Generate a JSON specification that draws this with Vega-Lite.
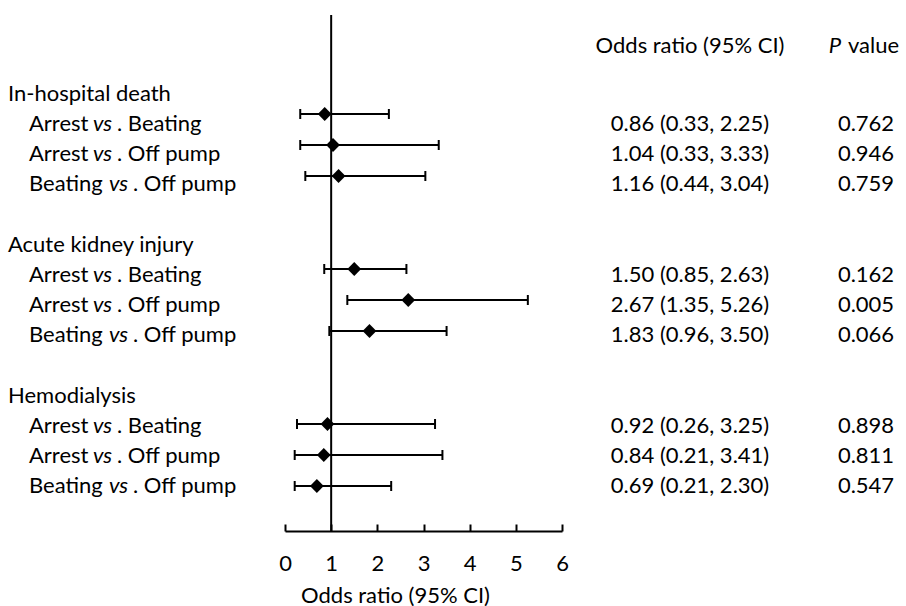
{
  "$schema": "https://vega.github.io/schema/vega-lite/v6.json",
  "padding": {"left": 0, "top": 14, "right": 0, "bottom": 0},
  "spacing": 0,
  "bounds": "flush",
  "background": "white",
  "datasets": {
    "rows": [
      {"order": 1, "level": 0, "label": "In-hospital death"},
      {"order": 2, "level": 1, "first": "Arrest", "rest": ". Beating", "or": 0.86, "lo": 0.33, "hi": 2.25, "ci": "0.86 (0.33, 2.25)", "p": "0.762"},
      {"order": 3, "level": 1, "first": "Arrest", "rest": ". Off pump", "or": 1.04, "lo": 0.33, "hi": 3.33, "ci": "1.04 (0.33, 3.33)", "p": "0.946"},
      {"order": 4, "level": 1, "first": "Beating", "rest": ". Off pump", "or": 1.16, "lo": 0.44, "hi": 3.04, "ci": "1.16 (0.44, 3.04)", "p": "0.759"},
      {"order": 6, "level": 0, "label": "Acute kidney injury"},
      {"order": 7, "level": 1, "first": "Arrest", "rest": ". Beating", "or": 1.50, "lo": 0.85, "hi": 2.63, "ci": "1.50 (0.85, 2.63)", "p": "0.162"},
      {"order": 8, "level": 1, "first": "Arrest", "rest": ". Off pump", "or": 2.67, "lo": 1.35, "hi": 5.26, "ci": "2.67 (1.35, 5.26)", "p": "0.005"},
      {"order": 9, "level": 1, "first": "Beating", "rest": ". Off pump", "or": 1.83, "lo": 0.96, "hi": 3.50, "ci": "1.83 (0.96, 3.50)", "p": "0.066"},
      {"order": 11, "level": 0, "label": "Hemodialysis"},
      {"order": 12, "level": 1, "first": "Arrest", "rest": ". Beating", "or": 0.92, "lo": 0.26, "hi": 3.25, "ci": "0.92 (0.26, 3.25)", "p": "0.898"},
      {"order": 13, "level": 1, "first": "Arrest", "rest": ". Off pump", "or": 0.84, "lo": 0.21, "hi": 3.41, "ci": "0.84 (0.21, 3.41)", "p": "0.811"},
      {"order": 14, "level": 1, "first": "Beating", "rest": ". Off pump", "or": 0.69, "lo": 0.21, "hi": 2.30, "ci": "0.69 (0.21, 2.30)", "p": "0.547"}
    ],
    "heads": [
      {"order": 0, "orhead": "Odds ratio (95% CI)", "p1": "P", "p2": "value"}
    ],
    "ref": [
      {"ref": 1}
    ]
  },
  "resolve": {"scale": {"x": "independent", "y": "independent"}},
  "hconcat": [
    {
      "width": 285,
      "height": 516,
      "data": {"name": "rows"},
      "encoding": {
        "y": {"field": "order", "type": "quantitative", "scale": {"domain": [-1.841, 15.245], "reverse": true, "nice": false, "zero": false}, "axis": null},
        "x": {"field": "level", "type": "quantitative", "scale": {"domain": [0, 1], "range": [8, 29]}, "axis": null}
      },
      "layer": [
        {
          "transform": [{"filter": "datum.level == 0"}],
          "mark": {"type": "text", "align": "left", "baseline": "alphabetic"},
          "encoding": {"text": {"field": "label"}}
        },
        {
          "transform": [{"filter": "datum.level == 1"}],
          "mark": {"type": "text", "align": "left", "baseline": "alphabetic"},
          "encoding": {"text": {"field": "first"}}
        },
        {
          "transform": [{"filter": "datum.first == 'Arrest'"}],
          "mark": {"type": "text", "align": "left", "baseline": "alphabetic", "fontStyle": "italic", "text": "vs", "dx": 64}
        },
        {
          "transform": [{"filter": "datum.first == 'Beating'"}],
          "mark": {"type": "text", "align": "left", "baseline": "alphabetic", "fontStyle": "italic", "text": "vs", "dx": 80}
        },
        {
          "transform": [{"filter": "datum.first == 'Arrest'"}],
          "mark": {"type": "text", "align": "left", "baseline": "alphabetic", "dx": 88},
          "encoding": {"text": {"field": "rest"}}
        },
        {
          "transform": [{"filter": "datum.first == 'Beating'"}],
          "mark": {"type": "text", "align": "left", "baseline": "alphabetic", "dx": 104},
          "encoding": {"text": {"field": "rest"}}
        }
      ]
    },
    {
      "width": 277,
      "height": 516,
      "layer": [
        {
          "data": {"name": "ref"},
          "mark": {"type": "rule", "color": "black", "strokeWidth": 2, "opacity": 1},
          "encoding": {
            "x": {
              "field": "ref",
              "type": "quantitative",
              "scale": {"domain": [0, 6], "nice": false, "zero": false},
              "axis": {
                "values": [0, 1, 2, 3, 4, 5, 6],
                "format": "d",
                "grid": false,
                "domainColor": "black",
                "domainWidth": 2,
                "tickColor": "black",
                "tickWidth": 2,
                "tickSize": -7,
                "labelPadding": 29,
                "labelFontSize": 22,
                "labelFont": "Lato",
                "labelColor": "black",
                "labelFlush": false,
                "title": "Odds ratio (95% CI)",
                "titleFont": "Lato",
                "titleFontSize": 22,
                "titleFontWeight": "normal",
                "titleColor": "black",
                "titleX": 110,
                "titleY": 71,
                "titleBaseline": "alphabetic",
                "titleAlign": "center"
              }
            }
          }
        },
        {
          "data": {"name": "rows"},
          "transform": [{"filter": "datum.level == 1"}],
          "mark": {"type": "rule", "color": "black", "strokeWidth": 2, "opacity": 1},
          "encoding": {
            "x": {"field": "lo", "type": "quantitative"},
            "x2": {"field": "hi"},
            "y": {"field": "order", "type": "quantitative", "scale": {"domain": [-1.1935, 15.4516], "reverse": true, "nice": false, "zero": false}, "axis": null}
          }
        },
        {
          "data": {"name": "rows"},
          "transform": [{"filter": "datum.level == 1"}],
          "mark": {"type": "tick", "orient": "vertical", "size": 10, "thickness": 2, "color": "black", "opacity": 1},
          "encoding": {
            "x": {"field": "lo", "type": "quantitative"},
            "y": {"field": "order", "type": "quantitative", "axis": null}
          }
        },
        {
          "data": {"name": "rows"},
          "transform": [{"filter": "datum.level == 1"}],
          "mark": {"type": "tick", "orient": "vertical", "size": 10, "thickness": 2, "color": "black", "opacity": 1},
          "encoding": {
            "x": {"field": "hi", "type": "quantitative"},
            "y": {"field": "order", "type": "quantitative", "axis": null}
          }
        },
        {
          "data": {"name": "rows"},
          "transform": [{"filter": "datum.level == 1"}],
          "mark": {"type": "point", "shape": "diamond", "filled": true, "color": "black", "size": 190, "opacity": 1},
          "encoding": {
            "x": {"field": "or", "type": "quantitative"},
            "y": {"field": "order", "type": "quantitative", "axis": null}
          }
        }
      ]
    },
    {
      "width": 256,
      "height": 516,
      "encoding": {
        "y": {"field": "order", "type": "quantitative", "scale": {"domain": [-1.841, 15.245], "reverse": true, "nice": false, "zero": false}, "axis": null}
      },
      "layer": [
        {
          "data": {"name": "rows"},
          "transform": [{"filter": "datum.level == 1"}],
          "mark": {"type": "text", "align": "center", "baseline": "alphabetic"},
          "encoding": {"text": {"field": "ci"}}
        },
        {
          "data": {"name": "heads"},
          "mark": {"type": "text", "align": "center", "baseline": "alphabetic", "dy": -18},
          "encoding": {"text": {"field": "orhead"}}
        }
      ]
    },
    {
      "width": 88,
      "height": 516,
      "encoding": {
        "y": {"field": "order", "type": "quantitative", "scale": {"domain": [-1.841, 15.245], "reverse": true, "nice": false, "zero": false}, "axis": null}
      },
      "layer": [
        {
          "data": {"name": "rows"},
          "transform": [{"filter": "datum.level == 1"}],
          "mark": {"type": "text", "align": "center", "baseline": "alphabetic", "dx": 4},
          "encoding": {"text": {"field": "p"}}
        },
        {
          "data": {"name": "heads"},
          "mark": {"type": "text", "align": "right", "baseline": "alphabetic", "dy": -18, "dx": -21, "fontStyle": "italic"},
          "encoding": {"text": {"field": "p1"}}
        },
        {
          "data": {"name": "heads"},
          "mark": {"type": "text", "align": "left", "baseline": "alphabetic", "dy": -18, "dx": -14},
          "encoding": {"text": {"field": "p2"}}
        }
      ]
    }
  ],
  "config": {
    "view": {"stroke": null},
    "font": "Lato",
    "text": {"font": "Lato", "fontSize": 22, "color": "black"}
  }
}
